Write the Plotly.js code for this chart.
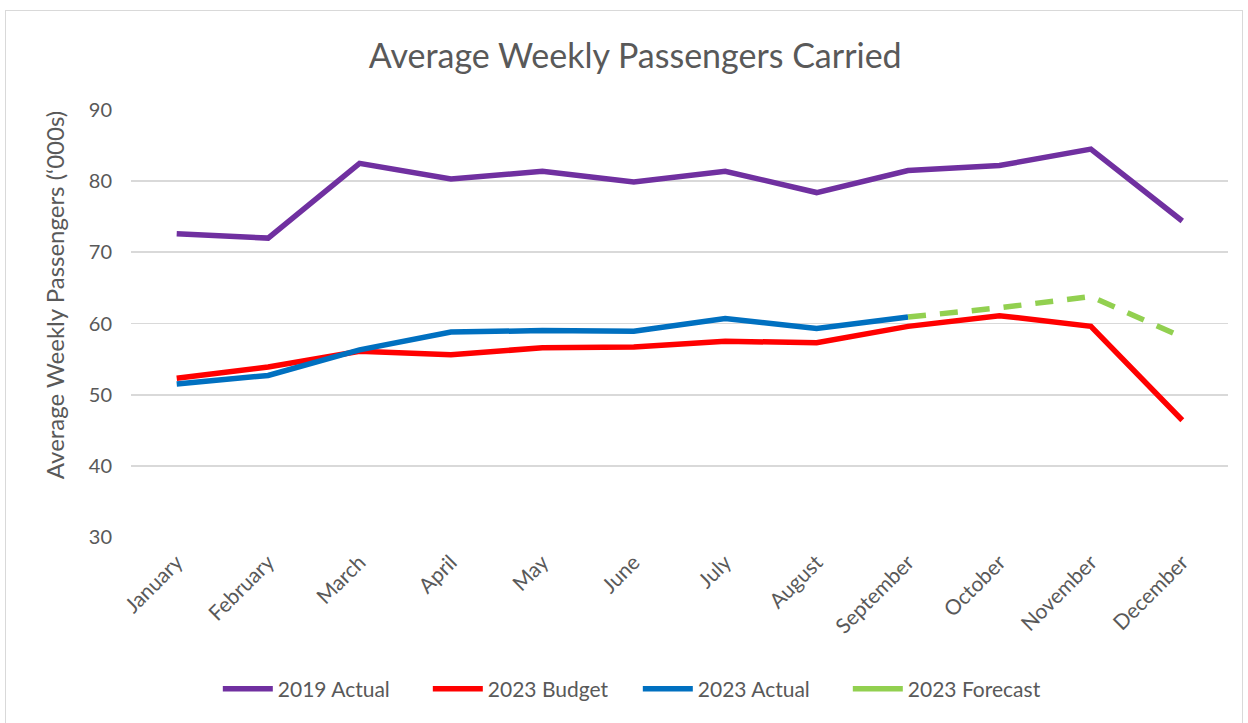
<!DOCTYPE html>
<html>
<head>
<meta charset="utf-8">
<script src="https://cdn.plot.ly/plotly-3.0.1.min.js"></script>
<style>
  html, body { margin: 0; padding: 0; background: #ffffff; }
  #chart { width: 1248px; height: 723px; }
  #frame { position: absolute; left: 5px; top: 10px; width: 1238px; height: 720px; border: 1px solid #d9d9d9; pointer-events: none; box-sizing: border-box; }
</style>
</head>
<body>
<div id="chart"></div>
<div id="frame"></div>
<script>
const months = ["January","February","March","April","May","June","July","August","September","October","November","December"];
const actual2019 = [72.6, 72.0, 82.5, 80.3, 81.4, 79.9, 81.4, 78.4, 81.5, 82.2, 84.5, 74.4];
const budget2023 = [52.3, 53.9, 56.1, 55.6, 56.6, 56.7, 57.5, 57.3, 59.6, 61.1, 59.6, 46.4];
const actual2023 = [51.5, 52.7, 56.3, 58.8, 59.0, 58.9, 60.7, 59.3, 60.9, null, null, null];
const forecast2023 = [null, null, null, null, null, null, null, null, 60.9, 62.2, 63.8, 58.1];

const fontFam = "Lato, 'Open Sans', sans-serif";
const txt = "#595959";

const traces = [
  {x: months, y: actual2019, name: "2019 Actual", mode: "lines", line: {color: "#7030A0", width: 5.5}},
  {x: months, y: budget2023, name: "2023 Budget", mode: "lines", line: {color: "#FF0000", width: 5.5}},
  {x: months, y: actual2023, name: "2023 Actual", mode: "lines", line: {color: "#0070C0", width: 5.5}},
  {x: months, y: forecast2023, name: "2023 Forecast", mode: "lines", showlegend: false, legendgroup: "fc", line: {color: "#92D050", width: 5.5, dash: "18px,14px"}},
  {x: [null], y: [null], name: "2023 Forecast", mode: "lines", legendgroup: "fc", line: {color: "#92D050", width: 5.5}}
];

const layout = {
  width: 1248, height: 723,
  margin: {l: 131, r: 20, t: 110, b: 186},
  paper_bgcolor: "#ffffff", plot_bgcolor: "#ffffff",
  font: {family: fontFam, color: txt},
  title: {text: "Average Weekly Passengers Carried", font: {size: 34, color: txt, family: fontFam}, x: 0.509, xanchor: "center", y: 0.923, yanchor: "middle"},
  xaxis: {
    type: "category", range: [-0.5, 11.5], tickangle: -45, tickfont: {size: 21, color: txt},
    showgrid: false, showline: false, zeroline: false, ticks: "", fixedrange: true,
    ticklabelstandoff: 8
  },
  yaxis: {
    range: [30, 90], dtick: 10, tick0: 30, tickfont: {size: 20, color: txt},
    gridcolor: "#d9d9d9", gridwidth: 1.8, zeroline: false, showline: false, ticks: "",
    ticklabelstandoff: 18
  },
  annotations: [{
    text: "Average Weekly Passengers (‘000s)", textangle: -90, showarrow: false,
    xref: "paper", yref: "paper", x: -0.069, y: 0.567, xanchor: "center", yanchor: "middle",
    font: {size: 24, color: txt, family: fontFam}
  }],
  legend: {orientation: "h", x: 0.462, xanchor: "center", y: -0.356, yanchor: "middle", font: {size: 21, color: txt}, itemwidth: 50, entrywidth: 145, traceorder: "normal"},
  showlegend: true
};

Plotly.newPlot("chart", traces, layout, {displayModeBar: false, staticPlot: true});
</script>
</body>
</html>
